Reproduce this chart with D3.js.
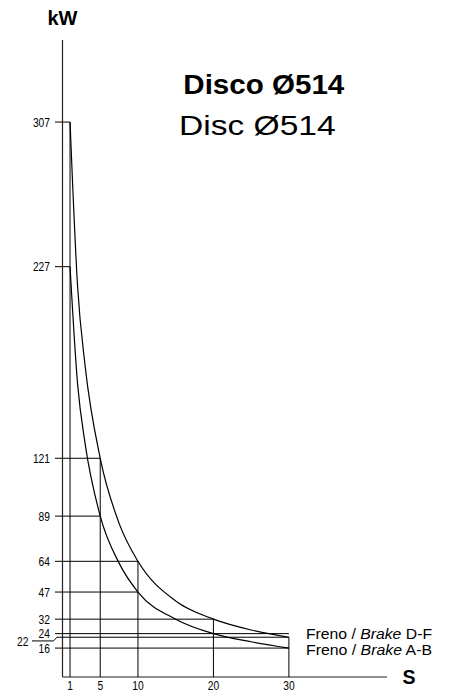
<!DOCTYPE html>
<html><head><meta charset="utf-8">
<script src="https://cdn.jsdelivr.net/npm/d3@7"></script>
<style>html,body{margin:0;padding:0;background:#fff}</style>
</head><body>
<script>
// ---- data ----
const xTicks = [1, 5, 10, 20, 30];
const yTicks = [307, 227, 121, 89, 64, 47, 32, 24, 22, 16];
const yTickEnds = [1, 1, 5, 5, 10, 10, 20, 30, 30, 30];   // x value where each guide line stops
const xTickTops = [307, 121, 64, 32, 22];                 // value where each vertical guide stops
const curveX = [1, 2, 3, 5, 7.5, 10, 15, 20, 25, 30];
const brakeDF = [307, 216, 172, 121, 85, 64, 42, 32, 26, 22];
const brakeAB = [227, 162, 129, 89, 63, 47, 32, 24, 19.5, 16];
const titleBold = "Disco Ø514";
const titleReg = "Disc Ø514";

const W = 451, H = 695;
const svg = d3.select("body").append("svg").attr("width", W).attr("height", H)
  .style("font-family", "'Liberation Sans', Arial, Helvetica, sans-serif");

const x = d3.scaleLinear().domain([0, 43]).range([62.5, 387]);
const y = d3.scaleLinear().domain([0, 352.4]).range([677, 40]);

// axes
svg.append("line").attr("x1", x(0)).attr("x2", x(0)).attr("y1", y(352.4)).attr("y2", y(0))
  .attr("stroke", "#222").attr("stroke-width", 1.2);
svg.append("line").attr("x1", x(0)).attr("x2", x(43)).attr("y1", y(0)).attr("y2", y(0))
  .attr("stroke", "#222").attr("stroke-width", 1.2);

// horizontal guides
yTicks.forEach((v, i) => {
  const x0 = v === 22 ? 57 : 55;
  svg.append("line").attr("x1", x0).attr("x2", x(yTickEnds[i]))
    .attr("y1", y(v)).attr("y2", y(v)).attr("stroke", "#000").attr("stroke-width", 1);
});
// vertical guides
xTicks.forEach((v, i) => {
  svg.append("line").attr("x1", x(v)).attr("x2", x(v))
    .attr("y1", y(xTickTops[i])).attr("y2", y(0)).attr("stroke", "#000").attr("stroke-width", 1);
});

// y tick labels
yTicks.forEach(v => {
  if (v === 22) return;
  svg.append("text").attr("transform", `translate(50,${y(v)}) scale(0.82,1)`)
    .attr("text-anchor", "end").attr("dy", "0.36em").attr("font-size", 12.5).text(v);
});
// 22 label with leader
svg.append("text").attr("transform", `translate(28.5,${y(22) + 4.5}) scale(0.82,1)`)
  .attr("text-anchor", "end").attr("dy", "0.36em").attr("font-size", 12.5).text(22);
svg.append("path").attr("d", `M32,${y(22) + 3.7}H53.5L57,${y(22)}`)
  .attr("fill", "none").attr("stroke", "#000").attr("stroke-width", 1);

// x tick labels
xTicks.forEach(v => {
  svg.append("text").attr("transform", `translate(${x(v)},690) scale(0.82,1)`)
    .attr("text-anchor", "middle").attr("font-size", 12.5).text(v);
});

// curves
const line = d3.line().x(d => x(d[0])).y(d => y(d[1])).curve(d3.curveMonotoneX);
[brakeDF, brakeAB].forEach(s => {
  svg.append("path").attr("d", line(curveX.map((c, i) => [c, s[i]])))
    .attr("fill", "none").attr("stroke", "#000").attr("stroke-width", 1.2);
});

// axis titles
svg.append("text").attr("x", x(0)).attr("y", 24.7).attr("text-anchor", "middle")
  .attr("font-weight", "bold").attr("font-size", 20).text("kW");
svg.append("text").attr("x", 402.5).attr("y", 684).attr("font-weight", "bold")
  .attr("font-size", 19.5).text("S");

// chart title
svg.append("text").attr("x", 183.3).attr("y", 94).attr("font-weight", "bold")
  .attr("font-size", 28.5).attr("textLength", 161).attr("lengthAdjust", "spacingAndGlyphs").text(titleBold);
svg.append("text").attr("x", 179).attr("y", 134.5).attr("font-size", 28)
  .attr("textLength", 156.7).attr("lengthAdjust", "spacingAndGlyphs").text(titleReg);

// legend
const leg = [["D-F", 638.5], ["A-B", 655.3]];
leg.forEach(([k, yy]) => {
  const t = svg.append("text").attr("x", 306).attr("y", yy).attr("font-size", 14.8)
    .attr("textLength", 126).attr("lengthAdjust", "spacingAndGlyphs");
  t.append("tspan").text("Freno / ");
  t.append("tspan").attr("font-style", "italic").text("Brake");
  t.append("tspan").text(" " + k);
});
</script>
</body></html>
